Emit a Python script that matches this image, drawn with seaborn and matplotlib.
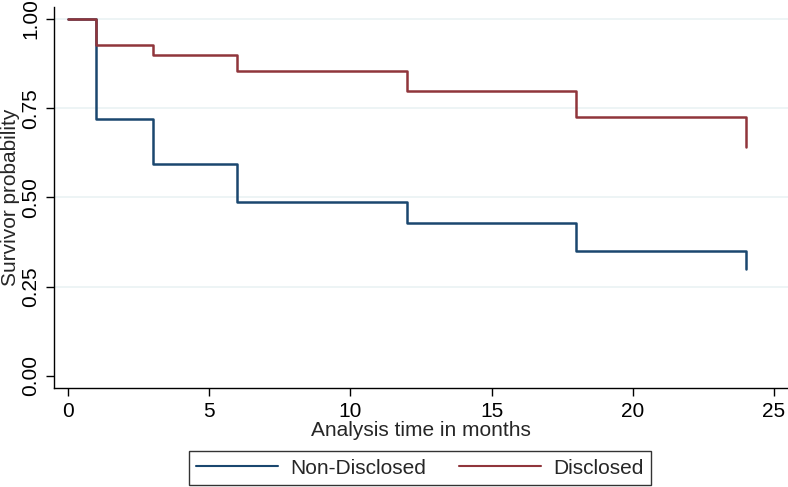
import numpy as np
import pandas as pd
import matplotlib
matplotlib.use("Agg")
import matplotlib.pyplot as plt
import seaborn as sns

# Kaplan-Meier step values
time_pts = [0, 1, 3, 6, 12, 18, 24, 24]
non_disclosed = [1.00, 0.72, 0.594, 0.486, 0.428, 0.351, 0.351, 0.30]
disclosed = [1.00, 0.926, 0.899, 0.853, 0.797, 0.725, 0.725, 0.641]
groups = ["Non-Disclosed", "Disclosed"]
colors = {"Non-Disclosed": "#1a476f", "Disclosed": "#90353b"}

df = pd.DataFrame({
    "time": time_pts * 2,
    "surv": non_disclosed + disclosed,
    "group": [groups[0]] * len(time_pts) + [groups[1]] * len(time_pts),
})

sns.set_style("white")
plt.rcParams["font.family"] = ["Liberation Sans", "DejaVu Sans"]
fs = 15

fig = plt.figure(figsize=(7.88, 4.87), dpi=100)
ax = fig.add_axes([0.0685, 0.203, 0.9315, 0.783])

for y in [0.25, 0.5, 0.75, 1.0]:
    ax.axhline(y, color="#eaf2f3", lw=1.2, zorder=0)

sns.lineplot(data=df, x="time", y="surv", hue="group", palette=colors,
             estimator=None, sort=False, drawstyle="steps-post", lw=1.8,
             ax=ax, legend=False)

ax.set_xlim(-0.5, 25.5)
ax.set_ylim(-0.034, 1.034)
ax.set_xticks([0, 5, 10, 15, 20, 25])
ax.set_yticks([0, 0.25, 0.5, 0.75, 1.0])
ax.set_yticklabels(["0.00", "0.25", "0.50", "0.75", "1.00"], rotation=90, va="center")
ax.tick_params(axis="both", direction="out", length=6, width=1, color="black",
               labelsize=fs, labelcolor="black", left=True, bottom=True)
ax.tick_params(axis="x", pad=4)
ax.tick_params(axis="y", pad=4)
for s in ["top", "right"]:
    ax.spines[s].set_visible(False)
for s in ["left", "bottom"]:
    ax.spines[s].set_color("black")
    ax.spines[s].set_linewidth(1)

ax.set_xlabel("Analysis time in months", fontsize=fs, labelpad=0)
ax.set_ylabel("Survivor probability", fontsize=fs, labelpad=1)

handles = [plt.Line2D([], [], color=colors[g], lw=1.5) for g in groups]
leg = fig.legend(handles, groups, loc="center", bbox_to_anchor=(0.533, 0.039),
                 ncol=2, fontsize=fs, frameon=True, fancybox=False,
                 handlelength=3.9, columnspacing=1.6, borderpad=0.35,
                 handletextpad=0.6)
leg.get_frame().set_edgecolor("black")
leg.get_frame().set_linewidth(1)

fig.savefig("out.png", dpi=100)
